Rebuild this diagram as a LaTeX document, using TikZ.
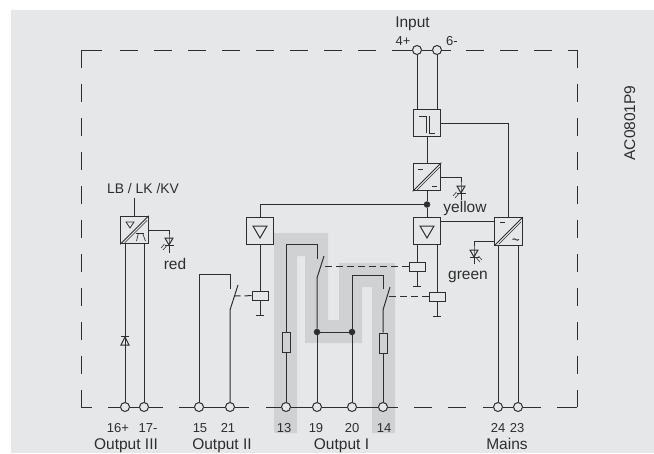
\documentclass[tikz,border=0pt]{standalone}
\usepackage{fontspec}
\setmainfont{Liberation Sans}
\definecolor{panel}{HTML}{E6E7E8}
\definecolor{track}{HTML}{CFD1D2}
\definecolor{ink}{HTML}{2E2E2E}

\newcommand{\diagmark}[1]{
  \draw[wire] (#1.south west) -- (#1.north east);
  \draw[wire, line width=0.6pt] ([shift={(4.5pt,1.5pt)}]#1.south west) -- ([shift={(-1.5pt,-4.5pt)}]#1.north east);
}
\newcommand{\trimark}[1]{
  \draw[wire] ([shift={(-7pt,5pt)}]#1.center) -- ([shift={(7pt,5pt)}]#1.center) -- ([shift={(0pt,-7pt)}]#1.center) -- cycle;
}
\newcommand{\gndmark}[1]{
  \draw[wire] ([xshift=-4pt]#1) -- ([xshift=4pt]#1);
}
% led sits with its top at #1, rays go to side #2
\newcommand{\ledmark}[2]{
  \draw[wire] ([xshift=-4pt]#1) -- ([xshift=4pt]#1) -- ([yshift=-7pt]#1) -- cycle;
  \draw[wire] ([shift={(-4.5pt,-7pt)}]#1) -- ([shift={(4.5pt,-7pt)}]#1);
  \draw[wire, line width=0.6pt] ([shift={(#2*2.5pt,-8pt)}]#1) -- ([shift={(#2*6pt,-12pt)}]#1);
  \draw[wire, line width=0.6pt] ([shift={(#2*4.5pt,-6pt)}]#1) -- ([shift={(#2*8pt,-10pt)}]#1);
}

\begin{document}
\begin{tikzpicture}[x=1pt, y=-1pt]
  \tikzstyle{wire} = [draw=ink, line width=1pt]
  \tikzstyle{frame} = [wire, dash pattern=on 18pt off 16pt]
  \tikzstyle{link} = [wire, dash pattern=on 7pt off 4pt]
  \tikzstyle{box} = [wire, rectangle, minimum size=27.5pt, inner sep=0pt]
  \tikzstyle{coil} = [wire, rectangle, minimum width=16pt, minimum height=9pt, inner sep=0pt]
  \tikzstyle{fuse} = [wire, rectangle, minimum width=8pt, minimum height=20pt, inner sep=0pt]
  \tikzstyle{term} = [wire, circle, fill=panel, minimum size=9pt, inner sep=0pt]
  \tikzstyle{joint} = [circle, fill=ink, minimum size=6.5pt, inner sep=0pt]
  \tikzstyle{lbl} = [text=ink, anchor=base, inner sep=0pt, font=\fontsize{15.5}{18}\selectfont]
  \tikzstyle{num} = [text=ink, anchor=base, inner sep=0pt, font=\fontsize{13}{15}\selectfont]

  \useasboundingbox (0,0) rectangle (654,453);
  \fill[panel] (11,10) rectangle (654,453);
  \fill[track] (274,233) -- (328,233) -- (328,320) -- (339,320) -- (339,263) -- (395,263)
    -- (395,433) -- (372,433) -- (372,287) -- (362,287) -- (362,343) -- (305,343)
    -- (305,256) -- (297,256) -- (297,433) -- (274,433) -- cycle;

  % terminals
  \node[term] (t4) at (417,50) {};
  \node[term] (t6) at (437,50) {};
  \node[term] (t16) at (125,407) {};
  \node[term] (t17) at (144,407) {};
  \node[term] (t15) at (199,407) {};
  \node[term] (t21) at (230,407) {};
  \node[term] (t13) at (286,407) {};
  \node[term] (t19) at (317,407) {};
  \node[term] (t20) at (352,407) {};
  \node[term] (t14) at (383,407) {};
  \node[term] (t24) at (498,407) {};
  \node[term] (t23) at (518,407) {};

  % blocks
  \node[box] (trig) at (427,123) {};
  \node[box] (conv) at (427,177) {};
  \node[box] (amp1) at (427,231) {};
  \node[box] (amp2) at (260,231) {};
  \node[box] (mains) at (508.5,231.5) {};
  \node[box] (out3) at (134.5,230) {};

  \node[coil] (coil1) at (417,266.5) {};
  \node[coil] (coil2) at (437,296.5) {};
  \node[coil] (coil3) at (260,295.5) {};
  \node[fuse] (fuse1) at (286,342) {};
  \node[fuse] (fuse2) at (383,343) {};
  \node[joint] (j1) at (427,204.5) {};
  \node[joint] (j2) at (317,332) {};
  \node[joint] (j3) at (352,332) {};

  % frame
  \coordinate (tl) at (81,50);
  \coordinate (tr) at (577,50);
  \coordinate (br) at (577,407);
  \coordinate (bl) at (81,407);
  \coordinate (f1) at (102,50);
  \coordinate (f2) at (120,50);
  \coordinate (f3) at (392,50);
  \coordinate (f4) at (451,50);
  \coordinate (f5) at (466,50);
  \coordinate (f6) at (92,407);
  \coordinate (f7) at (108,407);
  \coordinate (f8) at (163,407);
  \coordinate (f9) at (179,407);
  \coordinate (f10) at (249,407);
  \coordinate (f11) at (266,407);
  \coordinate (f12) at (398,407);
  \coordinate (f13) at (414,407);
  \coordinate (f14) at (467,407);
  \coordinate (f15) at (483,407);
  \coordinate (f16) at (541,407);
  \coordinate (f17) at (557,407);

  \draw[frame] (tl) -- (bl);
  \draw[frame] (tr) -- (br);
  \draw[wire] (tl) -- (f1);
  \draw[frame] (f2) -- (f3);
  \draw[wire] (f3) -- (t4);
  \draw[wire] (t4) -- (t6);
  \draw[wire] (t6) -- (f4);
  \draw[frame] (f5) -- (tr);
  \draw[wire] (bl) -- (f6);
  \draw[wire] (f7) -- (t16);
  \draw[wire] (t16) -- (t17);
  \draw[wire] (t17) -- (f8);
  \draw[wire] (f9) -- (t15);
  \draw[wire] (t15) -- (t21);
  \draw[wire] (t21) -- (f10);
  \draw[wire] (f11) -- (t13);
  \draw[wire] (t13) -- (t19);
  \draw[wire] (t19) -- (t20);
  \draw[wire] (t20) -- (t14);
  \draw[wire] (t14) -- (f12);
  \draw[frame] (f13) -- (f14);
  \draw[wire] (f15) -- (t24);
  \draw[wire] (t24) -- (t23);
  \draw[wire] (t23) -- (f16);
  \draw[wire] (f17) -- (br);

  % input side
  \draw[wire] (t4) -- (t4 |- trig.north);
  \draw[wire] (t6) -- (t6 |- trig.north);
  \draw[wire] (trig) -- (conv);
  \draw[wire] (conv) -- (j1);
  \draw[wire] (j1) -- (amp1);
  \draw[wire] (j1) -| (amp2);
  \draw[wire] (trig) -| (mains);
  \draw[wire] (amp1.34) -- (amp1.34 -| mains.west);
  \draw[wire] (t24) -- (t24 |- mains.south);
  \draw[wire] (t23) -- (t23 |- mains.south);

  % leds
  \coordinate (ledy) at (461,186);
  \coordinate (ledy2) at (461,200);
  \coordinate (ledg) at (474,250);
  \coordinate (ledg2) at (474,264);
  \coordinate (ledr) at (169,238);
  \coordinate (ledr2) at (169,253);
  \draw[wire] (conv) -| (ledy) -- (ledy2);
  \draw[wire] (mains.214) -| (ledg) -- (ledg2);
  \draw[wire] (out3) -| (ledr) -- (ledr2);
  \ledmark{ledy}{-1}
  \ledmark{ledg}{1}
  \ledmark{ledr}{-1}

  % block symbols
  \draw[wire] (419,116) -- (426,116) -- (426,133);
  \draw[wire] (429,116) -- (429,133) -- (435,133);
  \diagmark{conv}
  \draw[wire] ([shift={(-9pt,8pt)}]conv.center) -- ([shift={(-4pt,8pt)}]conv.center);
  \draw[wire] ([shift={(5pt,-9pt)}]conv.center) -- ([shift={(10pt,-9pt)}]conv.center);
  \trimark{amp1}
  \trimark{amp2}
  \diagmark{mains}
  \draw[wire] ([shift={(-9pt,9pt)}]mains.center) -- ([shift={(-4pt,9pt)}]mains.center);
  \draw[wire, rounded corners=1pt] ([shift={(4pt,-8pt)}]mains.center) -- ([shift={(6.5pt,-7pt)}]mains.center) -- ([shift={(8pt,-9pt)}]mains.center) -- ([shift={(10.5pt,-8pt)}]mains.center);
  \diagmark{out3}
  \draw[wire, line width=0.7pt] ([shift={(-8.5pt,8pt)}]out3.center) -- ([shift={(-0.5pt,8pt)}]out3.center) -- ([shift={(-4.5pt,2pt)}]out3.center) -- cycle;
  \draw[wire, line width=0.7pt] ([shift={(1pt,-3pt)}]out3.center) -- ([shift={(9pt,-3pt)}]out3.center);
  \draw[wire, line width=0.7pt] ([shift={(4pt,-3pt)}]out3.center) -- ([shift={(2pt,-11pt)}]out3.center);
  \draw[wire, line width=0.7pt] ([shift={(8pt,-3pt)}]out3.center) -- ([shift={(11pt,-11pt)}]out3.center);

  % output III
  \coordinate (lbin) at (134.5,198);
  \coordinate (dio) at (125,336);
  \draw[wire] (lbin) -- (out3);
  \draw[wire] (t16) -- (t16 |- out3.south);
  \draw[wire] (t17) -- (t17 |- out3.south);
  \draw[wire] ([xshift=-4pt]dio) -- ([xshift=4pt]dio);
  \draw[wire] ([yshift=-1pt]dio) -- ([shift={(-4pt,-9pt)}]dio) -- ([shift={(4pt,-9pt)}]dio) -- cycle;

  % output II
  \coordinate (s3up) at (230,274);
  \coordinate (s3a) at (230,289);
  \coordinate (s3b) at (230,310);
  \coordinate (s3c) at (238,285);
  \coordinate (s3m) at (235,296);
  \coordinate (g3) at (260,315);
  \draw[wire] (t15) |- (s3up) -- (s3a);
  \draw[wire] (t21) -- (s3b) -- (s3c);
  \draw[wire] (amp2) -- (coil3);
  \draw[wire] (coil3) -- (g3);
  \gndmark{g3}
  \draw[link] (coil3) -- (s3m);

  % output I
  \coordinate (s1up) at (317,244);
  \coordinate (s1a) at (317,259);
  \coordinate (s1b) at (317,278);
  \coordinate (s1c) at (324,256);
  \coordinate (s1m) at (322,266.5);
  \coordinate (s2up) at (383,275);
  \coordinate (s2a) at (383,289);
  \coordinate (s2b) at (383,310);
  \coordinate (s2c) at (390,287);
  \coordinate (s2m) at (388,296.5);
  \coordinate (g1) at (417,286);
  \coordinate (g2) at (437,316);
  \draw[wire] (t13) -- (fuse1);
  \draw[wire] (fuse1) |- (s1up) -- (s1a);
  \draw[wire] (t19) -- (j2);
  \draw[wire] (j2) -- (s1b) -- (s1c);
  \draw[wire] (j2) -- (j3);
  \draw[wire] (t20) -- (j3);
  \draw[wire] (j3) |- (s2up) -- (s2a);
  \draw[wire] (t14) -- (fuse2);
  \draw[wire] (fuse2) -- (s2b) -- (s2c);
  \draw[wire] (coil1 |- amp1.south) -- (coil1);
  \draw[wire] (coil2 |- amp1.south) -- (coil2);
  \draw[wire] (coil1) -- (g1);
  \draw[wire] (coil2) -- (g2);
  \gndmark{g1}
  \gndmark{g2}
  \draw[link] (coil1) -- (s1m);
  \draw[link] (coil2) -- (s2m);

  % labels
  \node[lbl] (linput) at (412.5,27) {Input};
  \node[num] (l4) at (403,45) {4+};
  \node[num] (l6) at (452,45) {6-};
  \node[lbl, rotate=90] (lcode) at (635,123) {AC0801P9};
  \node[num, font=\fontsize{13.9}{16}\selectfont] (lkind) at (143,193) {LB / LK /KV};
  \node[lbl] (lred) at (175,269) {red};
  \node[lbl] (lyellow) at (465,212.5) {yellow};
  \node[lbl] (lgreen) at (468,279) {green};
  \node[num] (l16) at (118,432) {16+};
  \node[num] (l17) at (148,432) {17-};
  \node[num] (l15) at (200,432) {15};
  \node[num] (l21) at (228,432) {21};
  \node[num] (l13) at (284,432) {13};
  \node[num] (l19) at (316,432) {19};
  \node[num] (l20) at (352,432) {20};
  \node[num] (l14) at (384,432) {14};
  \node[num] (l24) at (498,432) {24};
  \node[num] (l23) at (517,432) {23};
  \node[lbl] (lout3) at (126,449) {Output III};
  \node[lbl] (lout2) at (222,449) {Output II};
  \node[lbl] (lout1) at (341.5,449) {Output I};
  \node[lbl] (lmains) at (507,449) {Mains};
\end{tikzpicture}
\end{document}
